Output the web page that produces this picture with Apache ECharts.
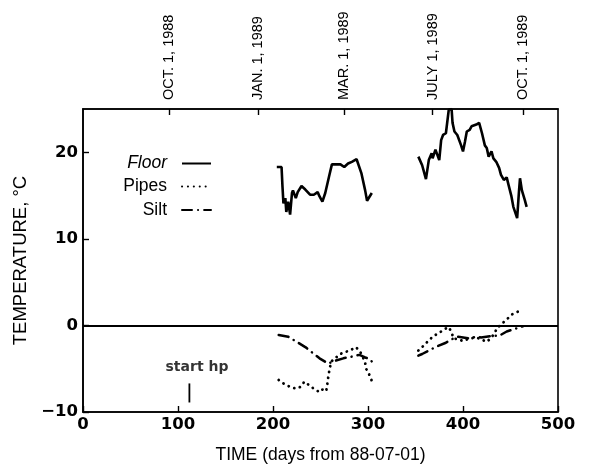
<!DOCTYPE html>
<html>
<head>
<meta charset="utf-8">
<script src="https://cdn.jsdelivr.net/npm/echarts@6/dist/echarts.min.js"></script>
<style>html,body{margin:0;padding:0;background:#fff;}#c{width:594px;height:472px;}</style>
</head>
<body>
<div id="c"></div>
<script>
// ---- data (days from 88-07-01, temperature °C) ----
const floor1 = [[204,18.3],[209,18.3],[210,16.0],[211,14.1],[213,14.7],[214,13.1],[216,14.3],[218,12.8],[220,15.3],[221,15.6],[224,14.7],[226,15.4],[230,16.1],[234,15.7],[239,15.1],[243,15.1],[247,15.4],[249,14.9],[252,14.3],[255,15.3],[259,17.2],[262,18.6],[267,18.6],[271,18.6],[275,18.3],[279,18.7],[283,18.9],[288,19.2],[290,19.2],[293,17.6],[297,15.6],[299,14.4],[301,14.3],[304,15.3]];
const floor2 = [[353,19.5],[357,18.5],[361,16.9],[364,19.1],[367,19.9],[368,19.3],[371,20.3],[373,19.7],[375,19.1],[377,21.4],[379,22.0],[382,22.2],[383,22.4],[385,24.9],[388,25.0],[389,23.4],[391,22.4],[394,22.0],[396,21.8],[398,20.8],[400,20.1],[402,21.2],[404,22.4],[407,22.6],[409,23.0],[411,22.8],[414,23.2],[417,23.4],[420,22.2],[423,20.8],[425,20.5],[427,19.5],[430,20.1],[432,19.3],[435,18.9],[438,18.2],[440,17.4],[443,16.8],[446,17.1],[448,16.2],[451,14.9],[453,13.7],[455,13.5],[457,12.4],[459,15.6],[460,17.0],[462,15.6],[465,14.5],[467,13.7]];
const pipes1 = [[206,-6.3],[211,-6.7],[218,-7.1],[224,-7.3],[229,-7.1],[233,-6.5],[238,-6.9],[244,-7.4],[249,-7.7],[252,-7.4],[256,-7.6],[257,-6.9],[258,-6.1],[259,-5.4],[260,-4.8],[262,-4.1],[265,-3.9],[269,-3.4],[275,-3.1],[281,-2.9],[287,-2.5],[291,-2.9],[294,-3.5],[297,-4.3],[298,-5.0],[301,-5.6],[304,-6.4]];
const pipes2 = [[353,-2.9],[359,-2.3],[365,-1.6],[371,-1.1],[377,-0.7],[382,-0.35],[385,-0.2],[388,-0.8],[390,-1.5],[395,-1.6],[400,-1.8],[407,-1.5],[414,-1.4],[419,-1.6],[425,-1.9],[430,-1.4],[433,-0.9],[436,-0.3],[441,0.2],[446,0.7],[452,1.3],[458,1.6],[463,1.8]];
const silt1 = [[206,-1.1],[216,-1.3],[225,-1.9],[234,-2.5],[242,-3.2],[249,-3.8],[258,-4.4],[265,-4.1],[274,-3.8],[283,-3.6],[291,-3.4],[297,-3.7],[302,-3.9],[305,-4.3]];
const silt2 = [[353,-3.5],[357,-3.3],[364,-2.9],[371,-2.5],[382,-2.0],[388,-1.6],[395,-1.3],[407,-1.5],[414,-1.3],[419,-1.4],[431,-1.2],[438,-1.2],[446,-0.7],[456,-0.35],[463,-0.1]];
const startHpTick = [[112,-6.7],[112,-8.9]];
const startHpLabel = [[120,-4.8]];
const startHpText = 'start hp';
// top date axis
const dateTickDays = [91, 184, 275, 368, 463];
const dateTickLabels = ['OCT. 1, 1988', 'JAN. 1, 1989', 'MAR. 1, 1989', 'JULY 1, 1989', 'OCT. 1, 1989'];
const xTicks = [0, 100, 200, 300, 400, 500];
const yTicks = [-10, 0, 10, 20];
const seriesNames = ['Floor', 'Pipes', 'Silt'];

const chart = echarts.init(document.getElementById('c'));
const black = '#000';
const tickFont = {color: black, fontFamily: 'DejaVu Sans', fontWeight: 'bold', fontSize: 16.5};
const floorStyle = {color: black, width: 2.6, type: 'solid'};
const pipesStyle = {color: black, width: 2.8, type: [0.1, 5.8], cap: 'round'};
const siltStyle = {color: black, width: 2.5, type: [10, 6, 0.1, 6], cap: 'round'};
const fmtNum = v => String(v).replace('-', '\u2212');

function lineSeries(name, data, style, extra) {
  return Object.assign({
    name: name, type: 'line', data: data, symbol: 'none', showSymbol: false,
    lineStyle: style, itemStyle: {color: black}, silent: true, animation: false, z: 3
  }, extra || {});
}

const legendTops = [149.5, 172.5, 196];
const legends = seriesNames.map((n, i) => ({
  data: [n === 'Floor' ? {name: n, textStyle: {fontStyle: 'italic'}} : n],
  right: 377, top: legendTops[i], orient: 'horizontal', align: 'right',
  itemWidth: 29, itemHeight: 18, selectedMode: false,
  itemStyle: {opacity: 0},
  textStyle: {color: black, fontFamily: 'Liberation Sans', fontSize: 17.5, padding: [0, 10, 0, 0]}
}));

chart.setOption({
  backgroundColor: '#fff',
  animation: false,
  legend: legends,
  grid: {left: 83, right: 36, top: 109, bottom: 60, show: true, borderColor: black, borderWidth: 1.6, backgroundColor: 'transparent'},
  xAxis: [{
    type: 'value', min: 0, max: 500, interval: 100, position: 'bottom',
    name: 'TIME (days from 88-07-01)', nameLocation: 'middle', nameGap: 34,
    nameTextStyle: {color: black, fontFamily: 'Liberation Sans', fontSize: 17.5},
    axisLine: {show: true, onZero: false, lineStyle: {color: black, width: 1.6}},
    axisTick: {show: true, inside: true, length: 6, lineStyle: {color: black, width: 1.4}},
    axisLabel: Object.assign({margin: 4, formatter: fmtNum}, tickFont),
    splitLine: {show: false}
  }, {
    type: 'value', min: 0, max: 500, position: 'top',
    axisLine: {show: true, onZero: false, lineStyle: {color: black, width: 1.6}},
    axisTick: {show: true, inside: true, length: 6, customValues: dateTickDays, lineStyle: {color: black, width: 1.4}},
    axisLabel: {show: true, rotate: -90, margin: 9, customValues: dateTickDays,
      formatter: v => dateTickLabels[dateTickDays.indexOf(v)] || '',
      color: black, fontFamily: 'Liberation Sans', fontSize: 14.5},
    splitLine: {show: false}
  }],
  yAxis: [{
    type: 'value', min: -10, max: 25, interval: 10,
    name: 'TEMPERATURE, °C', nameLocation: 'middle', nameGap: 48,
    nameTextStyle: {color: black, fontFamily: 'Liberation Sans', fontSize: 18.5},
    axisLine: {show: true, onZero: false, lineStyle: {color: black, width: 1.6}},
    axisTick: {show: true, inside: true, length: 6, lineStyle: {color: black, width: 1.4}},
    axisLabel: Object.assign({margin: 5, showMaxLabel: false, formatter: fmtNum}, tickFont),
    splitLine: {show: false}
  }],
  series: [
    lineSeries('Floor', floor1, floorStyle, {
      markLine: {silent: true, symbol: 'none', label: {show: false},
        lineStyle: {color: black, width: 1.8, type: 'solid'}, data: [{yAxis: 0}]}
    }),
    lineSeries('Floor', floor2, floorStyle),
    lineSeries('Pipes', pipes1, pipesStyle),
    lineSeries('Pipes', pipes2, pipesStyle),
    lineSeries('Silt', silt1, siltStyle),
    lineSeries('Silt', silt2, siltStyle),
    lineSeries('startHp', startHpTick, {color: black, width: 1.8, type: 'solid'}),
    {
      name: 'startHpText', type: 'scatter', data: startHpLabel, symbolSize: 0, silent: true,
      label: {show: true, position: 'inside', formatter: startHpText, color: black,
        fontFamily: 'DejaVu Sans', fontWeight: 'bold', fontSize: 14}
    }
  ]
});
</script>
</body>
</html>
